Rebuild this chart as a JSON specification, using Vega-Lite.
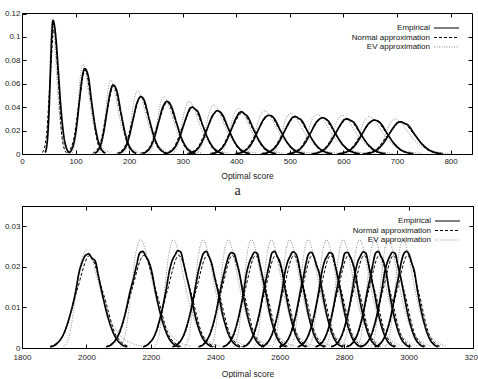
{
"$schema":"https://vega.github.io/schema/vega-lite/v6.json",
"padding":{"left":3,"top":9,"right":0,"bottom":0},
"config":{"font":"Liberation Sans","view":{"stroke":"#000","strokeWidth":1},
"axis":{"grid":false,"domain":false,"tickColor":"#000","tickSize":-4,"labelFontSize":8,"labelColor":"#222","titleFontSize":8.5,"titleFontWeight":"normal","titleColor":"#222","labelFont":"Liberation Sans","titleFont":"Liberation Sans","labelFlush":false,"labelOverlap":false},
"legend":{"orient":"top-right","offset":10,"title":null,"labelFontSize":8,"labelColor":"#111","labelAlign":"right","labelOffset":-30,"symbolType":"M-5.25,0H1","symbolSize":64,"symbolStrokeWidth":1.2,"rowPadding":0.5,"padding":0,"labelLimit":300,"labelFont":"Liberation Sans"},
"concat":{"spacing":3}},
"datasets":{
"top":[
{"s":"E","c":1,"x":43,"y":0.0013},{"s":"E","c":1,"x":45.5,"y":0.005},{"s":"E","c":1,"x":48,"y":0.0154},{"s":"E","c":1,"x":50.5,"y":0.0371},{"s":"E","c":1,"x":53,"y":0.0692},{"s":"E","c":1,"x":55.5,"y":0.1005},{"s":"E","c":1,"x":58,"y":0.114},{"s":"E","c":1,"x":63,"y":0.1005},{"s":"E","c":1,"x":68,"y":0.0692},{"s":"E","c":1,"x":73,"y":0.0371},{"s":"E","c":1,"x":78,"y":0.0154},{"s":"E","c":1,"x":83,"y":0.005},{"s":"E","c":1,"x":88,"y":0.0013},
{"s":"E","c":2,"x":87,"y":0.0008},{"s":"E","c":2,"x":92,"y":0.0032},{"s":"E","c":2,"x":97,"y":0.0099},{"s":"E","c":2,"x":102,"y":0.0237},{"s":"E","c":2,"x":107,"y":0.0443},{"s":"E","c":2,"x":112,"y":0.0644},{"s":"E","c":2,"x":117,"y":0.073},{"s":"E","c":2,"x":123.5,"y":0.067},{"s":"E","c":2,"x":130,"y":0.0443},{"s":"E","c":2,"x":136.5,"y":0.0237},{"s":"E","c":2,"x":143,"y":0.0099},{"s":"E","c":2,"x":149.5,"y":0.0032},{"s":"E","c":2,"x":156,"y":0.0008},
{"s":"E","c":3,"x":135.5,"y":0.0006},{"s":"E","c":3,"x":141.3,"y":0.0026},{"s":"E","c":3,"x":147,"y":0.008},{"s":"E","c":3,"x":152.8,"y":0.0192},{"s":"E","c":3,"x":158.5,"y":0.0358},{"s":"E","c":3,"x":164.3,"y":0.052},{"s":"E","c":3,"x":170,"y":0.059},{"s":"E","c":3,"x":177.3,"y":0.0535},{"s":"E","c":3,"x":184.5,"y":0.0358},{"s":"E","c":3,"x":191.8,"y":0.0192},{"s":"E","c":3,"x":199,"y":0.008},{"s":"E","c":3,"x":206.3,"y":0.0026},{"s":"E","c":3,"x":213.5,"y":0.0006},
{"s":"E","c":4,"x":180.5,"y":0.0005},{"s":"E","c":4,"x":187.3,"y":0.0022},{"s":"E","c":4,"x":194,"y":0.0066},{"s":"E","c":4,"x":200.8,"y":0.0159},{"s":"E","c":4,"x":207.5,"y":0.0297},{"s":"E","c":4,"x":214.3,"y":0.0432},{"s":"E","c":4,"x":217.6,"y":0.0468},{"s":"E","c":4,"x":221,"y":0.049},{"s":"E","c":4,"x":225.1,"y":0.0482},{"s":"E","c":4,"x":229.3,"y":0.0445},{"s":"E","c":4,"x":237.5,"y":0.0297},{"s":"E","c":4,"x":245.8,"y":0.0159},{"s":"E","c":4,"x":254,"y":0.0066},{"s":"E","c":4,"x":262.3,"y":0.0022},{"s":"E","c":4,"x":270.5,"y":0.0005},
{"s":"E","c":5,"x":225,"y":0.0005},{"s":"E","c":5,"x":232.5,"y":0.002},{"s":"E","c":5,"x":240,"y":0.0061},{"s":"E","c":5,"x":247.5,"y":0.0146},{"s":"E","c":5,"x":255,"y":0.0273},{"s":"E","c":5,"x":262.5,"y":0.0397},{"s":"E","c":5,"x":266.3,"y":0.0432},{"s":"E","c":5,"x":270,"y":0.045},{"s":"E","c":5,"x":274.5,"y":0.0441},{"s":"E","c":5,"x":279,"y":0.0405},{"s":"E","c":5,"x":288,"y":0.0273},{"s":"E","c":5,"x":297,"y":0.0146},{"s":"E","c":5,"x":306,"y":0.0061},{"s":"E","c":5,"x":315,"y":0.002},{"s":"E","c":5,"x":324,"y":0.0005},
{"s":"E","c":6,"x":268.5,"y":0.0004},{"s":"E","c":6,"x":276.8,"y":0.0018},{"s":"E","c":6,"x":285,"y":0.0054},{"s":"E","c":6,"x":293.3,"y":0.013},{"s":"E","c":6,"x":301.5,"y":0.0243},{"s":"E","c":6,"x":309.8,"y":0.0353},{"s":"E","c":6,"x":313.9,"y":0.0392},{"s":"E","c":6,"x":318,"y":0.04},{"s":"E","c":6,"x":322.9,"y":0.0384},{"s":"E","c":6,"x":327.8,"y":0.0365},{"s":"E","c":6,"x":337.5,"y":0.0243},{"s":"E","c":6,"x":347.3,"y":0.013},{"s":"E","c":6,"x":357,"y":0.0054},{"s":"E","c":6,"x":366.8,"y":0.0018},{"s":"E","c":6,"x":376.5,"y":0.0004},
{"s":"E","c":7,"x":311.5,"y":0.0004},{"s":"E","c":7,"x":320.3,"y":0.0016},{"s":"E","c":7,"x":329,"y":0.005},{"s":"E","c":7,"x":337.8,"y":0.012},{"s":"E","c":7,"x":346.5,"y":0.0225},{"s":"E","c":7,"x":355.3,"y":0.0326},{"s":"E","c":7,"x":359.6,"y":0.0352},{"s":"E","c":7,"x":364,"y":0.037},{"s":"E","c":7,"x":369.1,"y":0.0362},{"s":"E","c":7,"x":374.3,"y":0.0335},{"s":"E","c":7,"x":384.5,"y":0.0225},{"s":"E","c":7,"x":394.8,"y":0.012},{"s":"E","c":7,"x":405,"y":0.005},{"s":"E","c":7,"x":415.3,"y":0.0016},{"s":"E","c":7,"x":425.5,"y":0.0004},
{"s":"E","c":8,"x":354.5,"y":0.0004},{"s":"E","c":8,"x":363.8,"y":0.0016},{"s":"E","c":8,"x":373,"y":0.0049},{"s":"E","c":8,"x":382.3,"y":0.0117},{"s":"E","c":8,"x":391.5,"y":0.0219},{"s":"E","c":8,"x":400.8,"y":0.0318},{"s":"E","c":8,"x":405.4,"y":0.0351},{"s":"E","c":8,"x":410,"y":0.036},{"s":"E","c":8,"x":415.4,"y":0.0342},{"s":"E","c":8,"x":420.8,"y":0.0322},{"s":"E","c":8,"x":431.5,"y":0.0219},{"s":"E","c":8,"x":442.3,"y":0.0117},{"s":"E","c":8,"x":453,"y":0.0049},{"s":"E","c":8,"x":463.8,"y":0.0016},{"s":"E","c":8,"x":474.5,"y":0.0004},
{"s":"E","c":9,"x":401.5,"y":0.0004},{"s":"E","c":9,"x":411.3,"y":0.0015},{"s":"E","c":9,"x":421,"y":0.0045},{"s":"E","c":9,"x":430.8,"y":0.0107},{"s":"E","c":9,"x":440.5,"y":0.02},{"s":"E","c":9,"x":450.3,"y":0.0291},{"s":"E","c":9,"x":455.1,"y":0.0318},{"s":"E","c":9,"x":460,"y":0.033},{"s":"E","c":9,"x":465.6,"y":0.0326},{"s":"E","c":9,"x":471.3,"y":0.03},{"s":"E","c":9,"x":482.5,"y":0.02},{"s":"E","c":9,"x":493.8,"y":0.0107},{"s":"E","c":9,"x":505,"y":0.0045},{"s":"E","c":9,"x":516.3,"y":0.0015},{"s":"E","c":9,"x":527.5,"y":0.0004},
{"s":"E","c":10,"x":450,"y":0.0004},{"s":"E","c":10,"x":460,"y":0.0014},{"s":"E","c":10,"x":470,"y":0.0043},{"s":"E","c":10,"x":480,"y":0.0104},{"s":"E","c":10,"x":490,"y":0.0194},{"s":"E","c":10,"x":500,"y":0.0282},{"s":"E","c":10,"x":505,"y":0.0313},{"s":"E","c":10,"x":510,"y":0.032},{"s":"E","c":10,"x":515.8,"y":0.0306},{"s":"E","c":10,"x":521.5,"y":0.029},{"s":"E","c":10,"x":533,"y":0.0194},{"s":"E","c":10,"x":544.5,"y":0.0104},{"s":"E","c":10,"x":556,"y":0.0043},{"s":"E","c":10,"x":567.5,"y":0.0014},{"s":"E","c":10,"x":579,"y":0.0004},
{"s":"E","c":11,"x":498.5,"y":0.0003},{"s":"E","c":11,"x":508.8,"y":0.0014},{"s":"E","c":11,"x":519,"y":0.0042},{"s":"E","c":11,"x":529.3,"y":0.0101},{"s":"E","c":11,"x":539.5,"y":0.0188},{"s":"E","c":11,"x":549.8,"y":0.0273},{"s":"E","c":11,"x":554.9,"y":0.0296},{"s":"E","c":11,"x":560,"y":0.031},{"s":"E","c":11,"x":565.9,"y":0.0303},{"s":"E","c":11,"x":571.8,"y":0.0282},{"s":"E","c":11,"x":583.5,"y":0.0188},{"s":"E","c":11,"x":595.3,"y":0.0101},{"s":"E","c":11,"x":607,"y":0.0042},{"s":"E","c":11,"x":618.8,"y":0.0014},{"s":"E","c":11,"x":630.5,"y":0.0003},
{"s":"E","c":12,"x":544,"y":0.0003},{"s":"E","c":12,"x":554.5,"y":0.0013},{"s":"E","c":12,"x":565,"y":0.0041},{"s":"E","c":12,"x":575.5,"y":0.0098},{"s":"E","c":12,"x":586,"y":0.0182},{"s":"E","c":12,"x":596.5,"y":0.0265},{"s":"E","c":12,"x":601.8,"y":0.0294},{"s":"E","c":12,"x":607,"y":0.03},{"s":"E","c":12,"x":613,"y":0.0287},{"s":"E","c":12,"x":619,"y":0.0272},{"s":"E","c":12,"x":631,"y":0.0182},{"s":"E","c":12,"x":643,"y":0.0098},{"s":"E","c":12,"x":655,"y":0.0041},{"s":"E","c":12,"x":667,"y":0.0013},{"s":"E","c":12,"x":679,"y":0.0003},
{"s":"E","c":13,"x":592.5,"y":0.0003},{"s":"E","c":13,"x":603.3,"y":0.0013},{"s":"E","c":13,"x":614,"y":0.0039},{"s":"E","c":13,"x":624.8,"y":0.0094},{"s":"E","c":13,"x":635.5,"y":0.0176},{"s":"E","c":13,"x":646.3,"y":0.0256},{"s":"E","c":13,"x":651.6,"y":0.0277},{"s":"E","c":13,"x":657,"y":0.029},{"s":"E","c":13,"x":663.1,"y":0.0284},{"s":"E","c":13,"x":669.3,"y":0.0263},{"s":"E","c":13,"x":681.5,"y":0.0176},{"s":"E","c":13,"x":693.8,"y":0.0094},{"s":"E","c":13,"x":706,"y":0.0039},{"s":"E","c":13,"x":718.3,"y":0.0013},{"s":"E","c":13,"x":730.5,"y":0.0003},
{"s":"E","c":14,"x":641,"y":0.0003},{"s":"E","c":14,"x":652,"y":0.0012},{"s":"E","c":14,"x":663,"y":0.0037},{"s":"E","c":14,"x":674,"y":0.0089},{"s":"E","c":14,"x":685,"y":0.0167},{"s":"E","c":14,"x":696,"y":0.0243},{"s":"E","c":14,"x":701.5,"y":0.0269},{"s":"E","c":14,"x":707,"y":0.0275},{"s":"E","c":14,"x":713.5,"y":0.0262},{"s":"E","c":14,"x":720,"y":0.025},{"s":"E","c":14,"x":733,"y":0.0167},{"s":"E","c":14,"x":746,"y":0.0089},{"s":"E","c":14,"x":759,"y":0.0037},{"s":"E","c":14,"x":772,"y":0.0012},{"s":"E","c":14,"x":785,"y":0.0003},
{"s":"V","c":1,"x":45,"y":0.0014},{"s":"V","c":1,"x":48,"y":0.0161},{"s":"V","c":1,"x":51,"y":0.0571},{"s":"V","c":1,"x":54,"y":0.1009},{"s":"V","c":1,"x":57,"y":0.117},{"s":"V","c":1,"x":60,"y":0.1052},{"s":"V","c":1,"x":63,"y":0.081},{"s":"V","c":1,"x":66,"y":0.0567},{"s":"V","c":1,"x":69,"y":0.0376},{"s":"V","c":1,"x":75,"y":0.0151},{"s":"V","c":1,"x":81,"y":0.0057},{"s":"V","c":1,"x":87,"y":0.0021},
{"s":"V","c":2,"x":94,"y":0.0009},{"s":"V","c":2,"x":99,"y":0.0106},{"s":"V","c":2,"x":104,"y":0.0376},{"s":"V","c":2,"x":109,"y":0.0664},{"s":"V","c":2,"x":114,"y":0.077},{"s":"V","c":2,"x":119,"y":0.0692},{"s":"V","c":2,"x":124,"y":0.0533},{"s":"V","c":2,"x":129,"y":0.0373},{"s":"V","c":2,"x":134,"y":0.0247},{"s":"V","c":2,"x":144,"y":0.0099},{"s":"V","c":2,"x":154,"y":0.0038},{"s":"V","c":2,"x":164,"y":0.0014},
{"s":"V","c":3,"x":144,"y":0.0008},{"s":"V","c":3,"x":149.5,"y":0.0087},{"s":"V","c":3,"x":155,"y":0.0307},{"s":"V","c":3,"x":160.5,"y":0.0543},{"s":"V","c":3,"x":166,"y":0.063},{"s":"V","c":3,"x":171.5,"y":0.0566},{"s":"V","c":3,"x":177,"y":0.0436},{"s":"V","c":3,"x":182.5,"y":0.0306},{"s":"V","c":3,"x":188,"y":0.0202},{"s":"V","c":3,"x":199,"y":0.0081},{"s":"V","c":3,"x":210,"y":0.0031},{"s":"V","c":3,"x":221,"y":0.0011},
{"s":"V","c":4,"x":190,"y":0.0006},{"s":"V","c":4,"x":196.5,"y":0.0075},{"s":"V","c":4,"x":203,"y":0.0264},{"s":"V","c":4,"x":209.5,"y":0.0465},{"s":"V","c":4,"x":216,"y":0.054},{"s":"V","c":4,"x":222.5,"y":0.0485},{"s":"V","c":4,"x":229,"y":0.0374},{"s":"V","c":4,"x":235.5,"y":0.0262},{"s":"V","c":4,"x":242,"y":0.0173},{"s":"V","c":4,"x":255,"y":0.007},{"s":"V","c":4,"x":268,"y":0.0026},{"s":"V","c":4,"x":281,"y":0.001},
{"s":"V","c":5,"x":237,"y":0.0006},{"s":"V","c":5,"x":244,"y":0.0068},{"s":"V","c":5,"x":251,"y":0.0239},{"s":"V","c":5,"x":258,"y":0.0422},{"s":"V","c":5,"x":265,"y":0.049},{"s":"V","c":5,"x":272,"y":0.0441},{"s":"V","c":5,"x":279,"y":0.0339},{"s":"V","c":5,"x":286,"y":0.0238},{"s":"V","c":5,"x":293,"y":0.0157},{"s":"V","c":5,"x":307,"y":0.0063},{"s":"V","c":5,"x":321,"y":0.0024},{"s":"V","c":5,"x":335,"y":0.0009},
{"s":"V","c":6,"x":282,"y":0.0005},{"s":"V","c":6,"x":289.5,"y":0.0062},{"s":"V","c":6,"x":297,"y":0.022},{"s":"V","c":6,"x":304.5,"y":0.0388},{"s":"V","c":6,"x":312,"y":0.045},{"s":"V","c":6,"x":319.5,"y":0.0405},{"s":"V","c":6,"x":327,"y":0.0311},{"s":"V","c":6,"x":334.5,"y":0.0218},{"s":"V","c":6,"x":342,"y":0.0144},{"s":"V","c":6,"x":357,"y":0.0058},{"s":"V","c":6,"x":372,"y":0.0022},{"s":"V","c":6,"x":387,"y":0.0008},
{"s":"V","c":7,"x":326,"y":0.0005},{"s":"V","c":7,"x":334,"y":0.0058},{"s":"V","c":7,"x":342,"y":0.0205},{"s":"V","c":7,"x":350,"y":0.0362},{"s":"V","c":7,"x":358,"y":0.042},{"s":"V","c":7,"x":366,"y":0.0378},{"s":"V","c":7,"x":374,"y":0.0291},{"s":"V","c":7,"x":382,"y":0.0204},{"s":"V","c":7,"x":390,"y":0.0135},{"s":"V","c":7,"x":406,"y":0.0054},{"s":"V","c":7,"x":422,"y":0.0021},{"s":"V","c":7,"x":438,"y":0.0008},
{"s":"V","c":8,"x":370,"y":0.0005},{"s":"V","c":8,"x":378.5,"y":0.0054},{"s":"V","c":8,"x":387,"y":0.019},{"s":"V","c":8,"x":395.5,"y":0.0336},{"s":"V","c":8,"x":404,"y":0.039},{"s":"V","c":8,"x":412.5,"y":0.0351},{"s":"V","c":8,"x":421,"y":0.027},{"s":"V","c":8,"x":429.5,"y":0.0189},{"s":"V","c":8,"x":438,"y":0.0125},{"s":"V","c":8,"x":455,"y":0.005},{"s":"V","c":8,"x":472,"y":0.0019},{"s":"V","c":8,"x":489,"y":0.0007},
{"s":"V","c":9,"x":417,"y":0.0004},{"s":"V","c":9,"x":426,"y":0.0051},{"s":"V","c":9,"x":435,"y":0.0181},{"s":"V","c":9,"x":444,"y":0.0319},{"s":"V","c":9,"x":453,"y":0.037},{"s":"V","c":9,"x":462,"y":0.0333},{"s":"V","c":9,"x":471,"y":0.0256},{"s":"V","c":9,"x":480,"y":0.0179},{"s":"V","c":9,"x":489,"y":0.0119},{"s":"V","c":9,"x":507,"y":0.0048},{"s":"V","c":9,"x":525,"y":0.0018},{"s":"V","c":9,"x":543,"y":0.0007},
{"s":"V","c":10,"x":466,"y":0.0004},{"s":"V","c":10,"x":475,"y":0.0048},{"s":"V","c":10,"x":484,"y":0.0171},{"s":"V","c":10,"x":493,"y":0.0302},{"s":"V","c":10,"x":502,"y":0.035},{"s":"V","c":10,"x":511,"y":0.0315},{"s":"V","c":10,"x":520,"y":0.0242},{"s":"V","c":10,"x":529,"y":0.017},{"s":"V","c":10,"x":538,"y":0.0112},{"s":"V","c":10,"x":556,"y":0.0045},{"s":"V","c":10,"x":574,"y":0.0017},{"s":"V","c":10,"x":592,"y":0.0006},
{"s":"V","c":11,"x":513,"y":0.0004},{"s":"V","c":11,"x":522.5,"y":0.0047},{"s":"V","c":11,"x":532,"y":0.0166},{"s":"V","c":11,"x":541.5,"y":0.0293},{"s":"V","c":11,"x":551,"y":0.034},{"s":"V","c":11,"x":560.5,"y":0.0306},{"s":"V","c":11,"x":570,"y":0.0235},{"s":"V","c":11,"x":579.5,"y":0.0165},{"s":"V","c":11,"x":589,"y":0.0109},{"s":"V","c":11,"x":608,"y":0.0044},{"s":"V","c":11,"x":627,"y":0.0017},{"s":"V","c":11,"x":646,"y":0.0006},
{"s":"V","c":12,"x":560,"y":0.0004},{"s":"V","c":12,"x":569.5,"y":0.0046},{"s":"V","c":12,"x":579,"y":0.0161},{"s":"V","c":12,"x":588.5,"y":0.0284},{"s":"V","c":12,"x":598,"y":0.033},{"s":"V","c":12,"x":607.5,"y":0.0297},{"s":"V","c":12,"x":617,"y":0.0228},{"s":"V","c":12,"x":626.5,"y":0.016},{"s":"V","c":12,"x":636,"y":0.0106},{"s":"V","c":12,"x":655,"y":0.0043},{"s":"V","c":12,"x":674,"y":0.0016},{"s":"V","c":12,"x":693,"y":0.0006},
{"s":"V","c":13,"x":609,"y":0.0004},{"s":"V","c":13,"x":618.8,"y":0.0044},{"s":"V","c":13,"x":628.5,"y":0.0156},{"s":"V","c":13,"x":638.3,"y":0.0276},{"s":"V","c":13,"x":648,"y":0.032},{"s":"V","c":13,"x":657.8,"y":0.0288},{"s":"V","c":13,"x":667.5,"y":0.0221},{"s":"V","c":13,"x":677.3,"y":0.0155},{"s":"V","c":13,"x":687,"y":0.0103},{"s":"V","c":13,"x":706.5,"y":0.0041},{"s":"V","c":13,"x":726,"y":0.0016},{"s":"V","c":13,"x":745.5,"y":0.0006},
{"s":"V","c":14,"x":657,"y":0.0004},{"s":"V","c":14,"x":667,"y":0.0041},{"s":"V","c":14,"x":677,"y":0.0146},{"s":"V","c":14,"x":687,"y":0.0259},{"s":"V","c":14,"x":697,"y":0.03},{"s":"V","c":14,"x":707,"y":0.027},{"s":"V","c":14,"x":717,"y":0.0208},{"s":"V","c":14,"x":727,"y":0.0146},{"s":"V","c":14,"x":737,"y":0.0096},{"s":"V","c":14,"x":757,"y":0.0039},{"s":"V","c":14,"x":777,"y":0.0015},{"s":"V","c":14,"x":797,"y":0.0005},
{"s":"N","c":1,"x":38.1,"y":0.0012},{"s":"N","c":1,"x":45.4,"y":0.0146},{"s":"N","c":1,"x":52.7,"y":0.0656},{"s":"N","c":1,"x":60,"y":0.108},{"s":"N","c":1,"x":67.3,"y":0.0656},{"s":"N","c":1,"x":74.6,"y":0.0146},{"s":"N","c":1,"x":81.9,"y":0.0012},
{"s":"N","c":2,"x":83.5,"y":0.0008},{"s":"N","c":2,"x":95,"y":0.0097},{"s":"N","c":2,"x":106.5,"y":0.0437},{"s":"N","c":2,"x":118,"y":0.072},{"s":"N","c":2,"x":129.5,"y":0.0437},{"s":"N","c":2,"x":141,"y":0.0097},{"s":"N","c":2,"x":152.5,"y":0.0008},
{"s":"N","c":3,"x":132,"y":0.0006},{"s":"N","c":3,"x":145,"y":0.0078},{"s":"N","c":3,"x":158,"y":0.0352},{"s":"N","c":3,"x":171,"y":0.058},{"s":"N","c":3,"x":184,"y":0.0352},{"s":"N","c":3,"x":197,"y":0.0078},{"s":"N","c":3,"x":210,"y":0.0006},
{"s":"N","c":4,"x":177,"y":0.0005},{"s":"N","c":4,"x":192,"y":0.0066},{"s":"N","c":4,"x":207,"y":0.0297},{"s":"N","c":4,"x":222,"y":0.049},{"s":"N","c":4,"x":237,"y":0.0297},{"s":"N","c":4,"x":252,"y":0.0066},{"s":"N","c":4,"x":267,"y":0.0005},
{"s":"N","c":5,"x":221.5,"y":0.0005},{"s":"N","c":5,"x":238,"y":0.0059},{"s":"N","c":5,"x":254.5,"y":0.0267},{"s":"N","c":5,"x":271,"y":0.044},{"s":"N","c":5,"x":287.5,"y":0.0267},{"s":"N","c":5,"x":304,"y":0.0059},{"s":"N","c":5,"x":320.5,"y":0.0005},
{"s":"N","c":6,"x":265,"y":0.0004},{"s":"N","c":6,"x":283,"y":0.0054},{"s":"N","c":6,"x":301,"y":0.0243},{"s":"N","c":6,"x":319,"y":0.04},{"s":"N","c":6,"x":337,"y":0.0243},{"s":"N","c":6,"x":355,"y":0.0054},{"s":"N","c":6,"x":373,"y":0.0004},
{"s":"N","c":7,"x":308,"y":0.0004},{"s":"N","c":7,"x":327,"y":0.005},{"s":"N","c":7,"x":346,"y":0.0225},{"s":"N","c":7,"x":365,"y":0.037},{"s":"N","c":7,"x":384,"y":0.0225},{"s":"N","c":7,"x":403,"y":0.005},{"s":"N","c":7,"x":422,"y":0.0004},
{"s":"N","c":8,"x":351,"y":0.0004},{"s":"N","c":8,"x":371,"y":0.0047},{"s":"N","c":8,"x":391,"y":0.0212},{"s":"N","c":8,"x":411,"y":0.035},{"s":"N","c":8,"x":431,"y":0.0212},{"s":"N","c":8,"x":451,"y":0.0047},{"s":"N","c":8,"x":471,"y":0.0004},
{"s":"N","c":9,"x":398,"y":0.0004},{"s":"N","c":9,"x":419,"y":0.0045},{"s":"N","c":9,"x":440,"y":0.02},{"s":"N","c":9,"x":461,"y":0.033},{"s":"N","c":9,"x":482,"y":0.02},{"s":"N","c":9,"x":503,"y":0.0045},{"s":"N","c":9,"x":524,"y":0.0004},
{"s":"N","c":10,"x":446.5,"y":0.0004},{"s":"N","c":10,"x":468,"y":0.0043},{"s":"N","c":10,"x":489.5,"y":0.0194},{"s":"N","c":10,"x":511,"y":0.032},{"s":"N","c":10,"x":532.5,"y":0.0194},{"s":"N","c":10,"x":554,"y":0.0043},{"s":"N","c":10,"x":575.5,"y":0.0004},
{"s":"N","c":11,"x":495,"y":0.0003},{"s":"N","c":11,"x":517,"y":0.0042},{"s":"N","c":11,"x":539,"y":0.0188},{"s":"N","c":11,"x":561,"y":0.031},{"s":"N","c":11,"x":583,"y":0.0188},{"s":"N","c":11,"x":605,"y":0.0042},{"s":"N","c":11,"x":627,"y":0.0003},
{"s":"N","c":12,"x":540.5,"y":0.0003},{"s":"N","c":12,"x":563,"y":0.0041},{"s":"N","c":12,"x":585.5,"y":0.0182},{"s":"N","c":12,"x":608,"y":0.03},{"s":"N","c":12,"x":630.5,"y":0.0182},{"s":"N","c":12,"x":653,"y":0.0041},{"s":"N","c":12,"x":675.5,"y":0.0003},
{"s":"N","c":13,"x":589,"y":0.0003},{"s":"N","c":13,"x":612,"y":0.0039},{"s":"N","c":13,"x":635,"y":0.0176},{"s":"N","c":13,"x":658,"y":0.029},{"s":"N","c":13,"x":681,"y":0.0176},{"s":"N","c":13,"x":704,"y":0.0039},{"s":"N","c":13,"x":727,"y":0.0003},
{"s":"N","c":14,"x":636,"y":0.0003},{"s":"N","c":14,"x":660,"y":0.0037},{"s":"N","c":14,"x":684,"y":0.0167},{"s":"N","c":14,"x":708,"y":0.0275},{"s":"N","c":14,"x":732,"y":0.0167},{"s":"N","c":14,"x":756,"y":0.0037},{"s":"N","c":14,"x":780,"y":0.0003}
],
"bot":[
{"s":"E","c":1,"x":1887,"y":0.0003},{"s":"E","c":1,"x":1907,"y":0.001},{"s":"E","c":1,"x":1927,"y":0.0031},{"s":"E","c":1,"x":1947,"y":0.0075},{"s":"E","c":1,"x":1967,"y":0.0141},{"s":"E","c":1,"x":1977,"y":0.0186},{"s":"E","c":1,"x":1987,"y":0.0212},{"s":"E","c":1,"x":1997,"y":0.0228},{"s":"E","c":1,"x":2007,"y":0.0232},{"s":"E","c":1,"x":2017,"y":0.0221},{"s":"E","c":1,"x":2027,"y":0.0215},{"s":"E","c":1,"x":2037,"y":0.0178},{"s":"E","c":1,"x":2047,"y":0.0141},{"s":"E","c":1,"x":2067,"y":0.0075},{"s":"E","c":1,"x":2087,"y":0.0031},{"s":"E","c":1,"x":2107,"y":0.001},{"s":"E","c":1,"x":2127,"y":0.0003},
{"s":"E","c":2,"x":2061,"y":0.0003},{"s":"E","c":2,"x":2080,"y":0.001},{"s":"E","c":2,"x":2099,"y":0.0032},{"s":"E","c":2,"x":2118,"y":0.0077},{"s":"E","c":2,"x":2137,"y":0.0144},{"s":"E","c":2,"x":2146.5,"y":0.0172},{"s":"E","c":2,"x":2156,"y":0.0205},{"s":"E","c":2,"x":2165.5,"y":0.0234},{"s":"E","c":2,"x":2175,"y":0.0238},{"s":"E","c":2,"x":2184.5,"y":0.0226},{"s":"E","c":2,"x":2194,"y":0.0212},{"s":"E","c":2,"x":2203.5,"y":0.0186},{"s":"E","c":2,"x":2213,"y":0.0144},{"s":"E","c":2,"x":2232,"y":0.0077},{"s":"E","c":2,"x":2251,"y":0.0032},{"s":"E","c":2,"x":2270,"y":0.001},{"s":"E","c":2,"x":2289,"y":0.0003},
{"s":"E","c":3,"x":2176,"y":0.0003},{"s":"E","c":3,"x":2194,"y":0.0011},{"s":"E","c":3,"x":2212,"y":0.0032},{"s":"E","c":3,"x":2230,"y":0.0078},{"s":"E","c":3,"x":2248,"y":0.0146},{"s":"E","c":3,"x":2257,"y":0.0188},{"s":"E","c":3,"x":2266,"y":0.0215},{"s":"E","c":3,"x":2275,"y":0.0229},{"s":"E","c":3,"x":2284,"y":0.024},{"s":"E","c":3,"x":2293,"y":0.0236},{"s":"E","c":3,"x":2302,"y":0.0207},{"s":"E","c":3,"x":2311,"y":0.0176},{"s":"E","c":3,"x":2320,"y":0.0146},{"s":"E","c":3,"x":2338,"y":0.0078},{"s":"E","c":3,"x":2356,"y":0.0032},{"s":"E","c":3,"x":2374,"y":0.0011},{"s":"E","c":3,"x":2392,"y":0.0003},
{"s":"E","c":4,"x":2267,"y":0.0003},{"s":"E","c":4,"x":2284.5,"y":0.001},{"s":"E","c":4,"x":2302,"y":0.0032},{"s":"E","c":4,"x":2319.5,"y":0.0077},{"s":"E","c":4,"x":2337,"y":0.0144},{"s":"E","c":4,"x":2345.8,"y":0.0183},{"s":"E","c":4,"x":2354.5,"y":0.0212},{"s":"E","c":4,"x":2363.3,"y":0.0233},{"s":"E","c":4,"x":2372,"y":0.0238},{"s":"E","c":4,"x":2380.8,"y":0.0225},{"s":"E","c":4,"x":2389.5,"y":0.0206},{"s":"E","c":4,"x":2398.3,"y":0.0173},{"s":"E","c":4,"x":2407,"y":0.0144},{"s":"E","c":4,"x":2424.5,"y":0.0077},{"s":"E","c":4,"x":2442,"y":0.0032},{"s":"E","c":4,"x":2459.5,"y":0.001},{"s":"E","c":4,"x":2477,"y":0.0003},
{"s":"E","c":5,"x":2348,"y":0.0003},{"s":"E","c":5,"x":2365,"y":0.001},{"s":"E","c":5,"x":2382,"y":0.0032},{"s":"E","c":5,"x":2399,"y":0.0076},{"s":"E","c":5,"x":2416,"y":0.0143},{"s":"E","c":5,"x":2424.5,"y":0.0175},{"s":"E","c":5,"x":2433,"y":0.0203},{"s":"E","c":5,"x":2441.5,"y":0.0226},{"s":"E","c":5,"x":2450,"y":0.0235},{"s":"E","c":5,"x":2458.5,"y":0.0232},{"s":"E","c":5,"x":2467,"y":0.021},{"s":"E","c":5,"x":2475.5,"y":0.0182},{"s":"E","c":5,"x":2484,"y":0.0143},{"s":"E","c":5,"x":2501,"y":0.0076},{"s":"E","c":5,"x":2518,"y":0.0032},{"s":"E","c":5,"x":2535,"y":0.001},{"s":"E","c":5,"x":2552,"y":0.0003},
{"s":"E","c":6,"x":2423,"y":0.0003},{"s":"E","c":6,"x":2439.5,"y":0.001},{"s":"E","c":6,"x":2456,"y":0.0032},{"s":"E","c":6,"x":2472.5,"y":0.0077},{"s":"E","c":6,"x":2489,"y":0.0143},{"s":"E","c":6,"x":2497.3,"y":0.0185},{"s":"E","c":6,"x":2505.5,"y":0.021},{"s":"E","c":6,"x":2513.8,"y":0.0226},{"s":"E","c":6,"x":2522,"y":0.0236},{"s":"E","c":6,"x":2530.3,"y":0.0233},{"s":"E","c":6,"x":2538.5,"y":0.0205},{"s":"E","c":6,"x":2546.8,"y":0.0174},{"s":"E","c":6,"x":2555,"y":0.0143},{"s":"E","c":6,"x":2571.5,"y":0.0077},{"s":"E","c":6,"x":2588,"y":0.0032},{"s":"E","c":6,"x":2604.5,"y":0.001},{"s":"E","c":6,"x":2621,"y":0.0003},
{"s":"E","c":7,"x":2485,"y":0.0003},{"s":"E","c":7,"x":2501.5,"y":0.001},{"s":"E","c":7,"x":2518,"y":0.0032},{"s":"E","c":7,"x":2534.5,"y":0.0077},{"s":"E","c":7,"x":2551,"y":0.0144},{"s":"E","c":7,"x":2559.3,"y":0.0176},{"s":"E","c":7,"x":2567.5,"y":0.0206},{"s":"E","c":7,"x":2575.8,"y":0.0234},{"s":"E","c":7,"x":2584,"y":0.0238},{"s":"E","c":7,"x":2592.3,"y":0.0226},{"s":"E","c":7,"x":2600.5,"y":0.0212},{"s":"E","c":7,"x":2608.8,"y":0.0185},{"s":"E","c":7,"x":2617,"y":0.0144},{"s":"E","c":7,"x":2633.5,"y":0.0077},{"s":"E","c":7,"x":2650,"y":0.0032},{"s":"E","c":7,"x":2666.5,"y":0.001},{"s":"E","c":7,"x":2683,"y":0.0003},
{"s":"E","c":8,"x":2542,"y":0.0003},{"s":"E","c":8,"x":2558.5,"y":0.001},{"s":"E","c":8,"x":2575,"y":0.0032},{"s":"E","c":8,"x":2591.5,"y":0.0077},{"s":"E","c":8,"x":2608,"y":0.0144},{"s":"E","c":8,"x":2616.3,"y":0.0186},{"s":"E","c":8,"x":2624.5,"y":0.0212},{"s":"E","c":8,"x":2632.8,"y":0.0227},{"s":"E","c":8,"x":2641,"y":0.0237},{"s":"E","c":8,"x":2649.3,"y":0.0233},{"s":"E","c":8,"x":2657.5,"y":0.0214},{"s":"E","c":8,"x":2665.8,"y":0.0175},{"s":"E","c":8,"x":2674,"y":0.0144},{"s":"E","c":8,"x":2690.5,"y":0.0077},{"s":"E","c":8,"x":2707,"y":0.0032},{"s":"E","c":8,"x":2723.5,"y":0.001},{"s":"E","c":8,"x":2740,"y":0.0003},
{"s":"E","c":9,"x":2599,"y":0.0003},{"s":"E","c":9,"x":2615.5,"y":0.001},{"s":"E","c":9,"x":2632,"y":0.0032},{"s":"E","c":9,"x":2648.5,"y":0.0077},{"s":"E","c":9,"x":2665,"y":0.0143},{"s":"E","c":9,"x":2673.3,"y":0.0174},{"s":"E","c":9,"x":2681.5,"y":0.0208},{"s":"E","c":9,"x":2689.8,"y":0.0232},{"s":"E","c":9,"x":2698,"y":0.0236},{"s":"E","c":9,"x":2706.3,"y":0.0225},{"s":"E","c":9,"x":2714.5,"y":0.0203},{"s":"E","c":9,"x":2722.8,"y":0.0184},{"s":"E","c":9,"x":2731,"y":0.0143},{"s":"E","c":9,"x":2747.5,"y":0.0077},{"s":"E","c":9,"x":2764,"y":0.0032},{"s":"E","c":9,"x":2780.5,"y":0.001},{"s":"E","c":9,"x":2797,"y":0.0003},
{"s":"E","c":10,"x":2656,"y":0.0003},{"s":"E","c":10,"x":2672.5,"y":0.001},{"s":"E","c":10,"x":2689,"y":0.0032},{"s":"E","c":10,"x":2705.5,"y":0.0076},{"s":"E","c":10,"x":2722,"y":0.0143},{"s":"E","c":10,"x":2730.3,"y":0.0185},{"s":"E","c":10,"x":2738.5,"y":0.0212},{"s":"E","c":10,"x":2746.8,"y":0.0226},{"s":"E","c":10,"x":2755,"y":0.0235},{"s":"E","c":10,"x":2763.3,"y":0.0232},{"s":"E","c":10,"x":2771.5,"y":0.0207},{"s":"E","c":10,"x":2779.8,"y":0.0176},{"s":"E","c":10,"x":2788,"y":0.0143},{"s":"E","c":10,"x":2804.5,"y":0.0076},{"s":"E","c":10,"x":2821,"y":0.0032},{"s":"E","c":10,"x":2837.5,"y":0.001},{"s":"E","c":10,"x":2854,"y":0.0003},
{"s":"E","c":11,"x":2711,"y":0.0003},{"s":"E","c":11,"x":2727.5,"y":0.001},{"s":"E","c":11,"x":2744,"y":0.0032},{"s":"E","c":11,"x":2760.5,"y":0.0077},{"s":"E","c":11,"x":2777,"y":0.0143},{"s":"E","c":11,"x":2785.3,"y":0.0177},{"s":"E","c":11,"x":2793.5,"y":0.0205},{"s":"E","c":11,"x":2801.8,"y":0.0233},{"s":"E","c":11,"x":2810,"y":0.0236},{"s":"E","c":11,"x":2818.3,"y":0.0226},{"s":"E","c":11,"x":2826.5,"y":0.021},{"s":"E","c":11,"x":2834.8,"y":0.0185},{"s":"E","c":11,"x":2843,"y":0.0143},{"s":"E","c":11,"x":2859.5,"y":0.0077},{"s":"E","c":11,"x":2876,"y":0.0032},{"s":"E","c":11,"x":2892.5,"y":0.001},{"s":"E","c":11,"x":2909,"y":0.0003},
{"s":"E","c":12,"x":2760,"y":0.0003},{"s":"E","c":12,"x":2776.5,"y":0.001},{"s":"E","c":12,"x":2793,"y":0.0032},{"s":"E","c":12,"x":2809.5,"y":0.0077},{"s":"E","c":12,"x":2826,"y":0.0144},{"s":"E","c":12,"x":2834.3,"y":0.0186},{"s":"E","c":12,"x":2842.5,"y":0.0213},{"s":"E","c":12,"x":2850.8,"y":0.0227},{"s":"E","c":12,"x":2859,"y":0.0237},{"s":"E","c":12,"x":2867.3,"y":0.0234},{"s":"E","c":12,"x":2875.5,"y":0.0206},{"s":"E","c":12,"x":2883.8,"y":0.0174},{"s":"E","c":12,"x":2892,"y":0.0144},{"s":"E","c":12,"x":2908.5,"y":0.0077},{"s":"E","c":12,"x":2925,"y":0.0032},{"s":"E","c":12,"x":2941.5,"y":0.001},{"s":"E","c":12,"x":2958,"y":0.0003},
{"s":"E","c":13,"x":2807,"y":0.0003},{"s":"E","c":13,"x":2823.5,"y":0.001},{"s":"E","c":13,"x":2840,"y":0.0032},{"s":"E","c":13,"x":2856.5,"y":0.0077},{"s":"E","c":13,"x":2873,"y":0.0144},{"s":"E","c":13,"x":2881.3,"y":0.0175},{"s":"E","c":13,"x":2889.5,"y":0.0208},{"s":"E","c":13,"x":2897.8,"y":0.0234},{"s":"E","c":13,"x":2906,"y":0.0238},{"s":"E","c":13,"x":2914.3,"y":0.0226},{"s":"E","c":13,"x":2922.5,"y":0.0212},{"s":"E","c":13,"x":2930.8,"y":0.0186},{"s":"E","c":13,"x":2939,"y":0.0144},{"s":"E","c":13,"x":2955.5,"y":0.0077},{"s":"E","c":13,"x":2972,"y":0.0032},{"s":"E","c":13,"x":2988.5,"y":0.001},{"s":"E","c":13,"x":3005,"y":0.0003},
{"s":"E","c":14,"x":2851,"y":0.0003},{"s":"E","c":14,"x":2867.5,"y":0.001},{"s":"E","c":14,"x":2884,"y":0.0032},{"s":"E","c":14,"x":2900.5,"y":0.0077},{"s":"E","c":14,"x":2917,"y":0.0143},{"s":"E","c":14,"x":2925.3,"y":0.0184},{"s":"E","c":14,"x":2933.5,"y":0.021},{"s":"E","c":14,"x":2941.8,"y":0.0226},{"s":"E","c":14,"x":2950,"y":0.0236},{"s":"E","c":14,"x":2958.3,"y":0.0233},{"s":"E","c":14,"x":2966.5,"y":0.0205},{"s":"E","c":14,"x":2974.8,"y":0.0176},{"s":"E","c":14,"x":2983,"y":0.0143},{"s":"E","c":14,"x":2999.5,"y":0.0077},{"s":"E","c":14,"x":3016,"y":0.0032},{"s":"E","c":14,"x":3032.5,"y":0.001},{"s":"E","c":14,"x":3049,"y":0.0003},
{"s":"E","c":15,"x":2895,"y":0.0003},{"s":"E","c":15,"x":2911.5,"y":0.001},{"s":"E","c":15,"x":2928,"y":0.0032},{"s":"E","c":15,"x":2944.5,"y":0.0077},{"s":"E","c":15,"x":2961,"y":0.0144},{"s":"E","c":15,"x":2969.3,"y":0.0177},{"s":"E","c":15,"x":2977.5,"y":0.0212},{"s":"E","c":15,"x":2985.8,"y":0.0233},{"s":"E","c":15,"x":2994,"y":0.0238},{"s":"E","c":15,"x":3002.3,"y":0.0229},{"s":"E","c":15,"x":3010.5,"y":0.0208},{"s":"E","c":15,"x":3018.8,"y":0.0186},{"s":"E","c":15,"x":3027,"y":0.0144},{"s":"E","c":15,"x":3043.5,"y":0.0077},{"s":"E","c":15,"x":3060,"y":0.0032},{"s":"E","c":15,"x":3076.5,"y":0.001},{"s":"E","c":15,"x":3093,"y":0.0003},
{"s":"V","c":1,"x":1930,"y":0.0003},{"s":"V","c":1,"x":1947.5,"y":0.0033},{"s":"V","c":1,"x":1965,"y":0.0118},{"s":"V","c":1,"x":1982.5,"y":0.0209},{"s":"V","c":1,"x":2000,"y":0.0242},{"s":"V","c":1,"x":2017.5,"y":0.0218},{"s":"V","c":1,"x":2035,"y":0.0167},{"s":"V","c":1,"x":2052.5,"y":0.0117},{"s":"V","c":1,"x":2070,"y":0.0078},{"s":"V","c":1,"x":2105,"y":0.0031},{"s":"V","c":1,"x":2140,"y":0.0012},{"s":"V","c":1,"x":2175,"y":0.0004},
{"s":"V","c":2,"x":2106,"y":0.0003},{"s":"V","c":2,"x":2121.5,"y":0.0037},{"s":"V","c":2,"x":2137,"y":0.013},{"s":"V","c":2,"x":2152.5,"y":0.023},{"s":"V","c":2,"x":2168,"y":0.0267},{"s":"V","c":2,"x":2183.5,"y":0.024},{"s":"V","c":2,"x":2199,"y":0.0185},{"s":"V","c":2,"x":2214.5,"y":0.0129},{"s":"V","c":2,"x":2230,"y":0.0086},{"s":"V","c":2,"x":2261,"y":0.0034},{"s":"V","c":2,"x":2292,"y":0.0013},{"s":"V","c":2,"x":2323,"y":0.0005},
{"s":"V","c":3,"x":2212,"y":0.0003},{"s":"V","c":3,"x":2226.5,"y":0.0037},{"s":"V","c":3,"x":2241,"y":0.013},{"s":"V","c":3,"x":2255.5,"y":0.023},{"s":"V","c":3,"x":2270,"y":0.0267},{"s":"V","c":3,"x":2284.5,"y":0.024},{"s":"V","c":3,"x":2299,"y":0.0185},{"s":"V","c":3,"x":2313.5,"y":0.0129},{"s":"V","c":3,"x":2328,"y":0.0086},{"s":"V","c":3,"x":2357,"y":0.0034},{"s":"V","c":3,"x":2386,"y":0.0013},{"s":"V","c":3,"x":2415,"y":0.0005},
{"s":"V","c":4,"x":2306,"y":0.0003},{"s":"V","c":4,"x":2320,"y":0.0037},{"s":"V","c":4,"x":2334,"y":0.013},{"s":"V","c":4,"x":2348,"y":0.023},{"s":"V","c":4,"x":2362,"y":0.0267},{"s":"V","c":4,"x":2376,"y":0.024},{"s":"V","c":4,"x":2390,"y":0.0185},{"s":"V","c":4,"x":2404,"y":0.0129},{"s":"V","c":4,"x":2418,"y":0.0086},{"s":"V","c":4,"x":2446,"y":0.0034},{"s":"V","c":4,"x":2474,"y":0.0013},{"s":"V","c":4,"x":2502,"y":0.0005},
{"s":"V","c":5,"x":2386,"y":0.0003},{"s":"V","c":5,"x":2399.5,"y":0.0037},{"s":"V","c":5,"x":2413,"y":0.013},{"s":"V","c":5,"x":2426.5,"y":0.023},{"s":"V","c":5,"x":2440,"y":0.0267},{"s":"V","c":5,"x":2453.5,"y":0.024},{"s":"V","c":5,"x":2467,"y":0.0185},{"s":"V","c":5,"x":2480.5,"y":0.0129},{"s":"V","c":5,"x":2494,"y":0.0086},{"s":"V","c":5,"x":2521,"y":0.0034},{"s":"V","c":5,"x":2548,"y":0.0013},{"s":"V","c":5,"x":2575,"y":0.0005},
{"s":"V","c":6,"x":2458,"y":0.0003},{"s":"V","c":6,"x":2471.5,"y":0.0037},{"s":"V","c":6,"x":2485,"y":0.013},{"s":"V","c":6,"x":2498.5,"y":0.023},{"s":"V","c":6,"x":2512,"y":0.0267},{"s":"V","c":6,"x":2525.5,"y":0.024},{"s":"V","c":6,"x":2539,"y":0.0185},{"s":"V","c":6,"x":2552.5,"y":0.0129},{"s":"V","c":6,"x":2566,"y":0.0086},{"s":"V","c":6,"x":2593,"y":0.0034},{"s":"V","c":6,"x":2620,"y":0.0013},{"s":"V","c":6,"x":2647,"y":0.0005},
{"s":"V","c":7,"x":2520,"y":0.0003},{"s":"V","c":7,"x":2533.5,"y":0.0037},{"s":"V","c":7,"x":2547,"y":0.013},{"s":"V","c":7,"x":2560.5,"y":0.023},{"s":"V","c":7,"x":2574,"y":0.0267},{"s":"V","c":7,"x":2587.5,"y":0.024},{"s":"V","c":7,"x":2601,"y":0.0185},{"s":"V","c":7,"x":2614.5,"y":0.0129},{"s":"V","c":7,"x":2628,"y":0.0086},{"s":"V","c":7,"x":2655,"y":0.0034},{"s":"V","c":7,"x":2682,"y":0.0013},{"s":"V","c":7,"x":2709,"y":0.0005},
{"s":"V","c":8,"x":2577,"y":0.0003},{"s":"V","c":8,"x":2590.5,"y":0.0037},{"s":"V","c":8,"x":2604,"y":0.013},{"s":"V","c":8,"x":2617.5,"y":0.023},{"s":"V","c":8,"x":2631,"y":0.0267},{"s":"V","c":8,"x":2644.5,"y":0.024},{"s":"V","c":8,"x":2658,"y":0.0185},{"s":"V","c":8,"x":2671.5,"y":0.0129},{"s":"V","c":8,"x":2685,"y":0.0086},{"s":"V","c":8,"x":2712,"y":0.0034},{"s":"V","c":8,"x":2739,"y":0.0013},{"s":"V","c":8,"x":2766,"y":0.0005},
{"s":"V","c":9,"x":2634,"y":0.0003},{"s":"V","c":9,"x":2647.5,"y":0.0037},{"s":"V","c":9,"x":2661,"y":0.013},{"s":"V","c":9,"x":2674.5,"y":0.023},{"s":"V","c":9,"x":2688,"y":0.0267},{"s":"V","c":9,"x":2701.5,"y":0.024},{"s":"V","c":9,"x":2715,"y":0.0185},{"s":"V","c":9,"x":2728.5,"y":0.0129},{"s":"V","c":9,"x":2742,"y":0.0086},{"s":"V","c":9,"x":2769,"y":0.0034},{"s":"V","c":9,"x":2796,"y":0.0013},{"s":"V","c":9,"x":2823,"y":0.0005},
{"s":"V","c":10,"x":2691,"y":0.0003},{"s":"V","c":10,"x":2704.5,"y":0.0037},{"s":"V","c":10,"x":2718,"y":0.013},{"s":"V","c":10,"x":2731.5,"y":0.023},{"s":"V","c":10,"x":2745,"y":0.0267},{"s":"V","c":10,"x":2758.5,"y":0.024},{"s":"V","c":10,"x":2772,"y":0.0185},{"s":"V","c":10,"x":2785.5,"y":0.0129},{"s":"V","c":10,"x":2799,"y":0.0086},{"s":"V","c":10,"x":2826,"y":0.0034},{"s":"V","c":10,"x":2853,"y":0.0013},{"s":"V","c":10,"x":2880,"y":0.0005},
{"s":"V","c":11,"x":2743,"y":0.0003},{"s":"V","c":11,"x":2756.5,"y":0.0037},{"s":"V","c":11,"x":2770,"y":0.013},{"s":"V","c":11,"x":2783.5,"y":0.023},{"s":"V","c":11,"x":2797,"y":0.0267},{"s":"V","c":11,"x":2810.5,"y":0.024},{"s":"V","c":11,"x":2824,"y":0.0185},{"s":"V","c":11,"x":2837.5,"y":0.0129},{"s":"V","c":11,"x":2851,"y":0.0086},{"s":"V","c":11,"x":2878,"y":0.0034},{"s":"V","c":11,"x":2905,"y":0.0013},{"s":"V","c":11,"x":2932,"y":0.0005},
{"s":"V","c":12,"x":2794,"y":0.0003},{"s":"V","c":12,"x":2807.5,"y":0.0037},{"s":"V","c":12,"x":2821,"y":0.013},{"s":"V","c":12,"x":2834.5,"y":0.023},{"s":"V","c":12,"x":2848,"y":0.0267},{"s":"V","c":12,"x":2861.5,"y":0.024},{"s":"V","c":12,"x":2875,"y":0.0185},{"s":"V","c":12,"x":2888.5,"y":0.0129},{"s":"V","c":12,"x":2902,"y":0.0086},{"s":"V","c":12,"x":2929,"y":0.0034},{"s":"V","c":12,"x":2956,"y":0.0013},{"s":"V","c":12,"x":2983,"y":0.0005},
{"s":"V","c":13,"x":2841,"y":0.0003},{"s":"V","c":13,"x":2854.5,"y":0.0037},{"s":"V","c":13,"x":2868,"y":0.013},{"s":"V","c":13,"x":2881.5,"y":0.023},{"s":"V","c":13,"x":2895,"y":0.0267},{"s":"V","c":13,"x":2908.5,"y":0.024},{"s":"V","c":13,"x":2922,"y":0.0185},{"s":"V","c":13,"x":2935.5,"y":0.0129},{"s":"V","c":13,"x":2949,"y":0.0086},{"s":"V","c":13,"x":2976,"y":0.0034},{"s":"V","c":13,"x":3003,"y":0.0013},{"s":"V","c":13,"x":3030,"y":0.0005},
{"s":"V","c":14,"x":2883,"y":0.0003},{"s":"V","c":14,"x":2896.5,"y":0.0037},{"s":"V","c":14,"x":2910,"y":0.013},{"s":"V","c":14,"x":2923.5,"y":0.023},{"s":"V","c":14,"x":2937,"y":0.0267},{"s":"V","c":14,"x":2950.5,"y":0.024},{"s":"V","c":14,"x":2964,"y":0.0185},{"s":"V","c":14,"x":2977.5,"y":0.0129},{"s":"V","c":14,"x":2991,"y":0.0086},{"s":"V","c":14,"x":3018,"y":0.0034},{"s":"V","c":14,"x":3045,"y":0.0013},{"s":"V","c":14,"x":3072,"y":0.0005},
{"s":"V","c":15,"x":2929,"y":0.0003},{"s":"V","c":15,"x":2942.5,"y":0.0037},{"s":"V","c":15,"x":2956,"y":0.013},{"s":"V","c":15,"x":2969.5,"y":0.023},{"s":"V","c":15,"x":2983,"y":0.0267},{"s":"V","c":15,"x":2996.5,"y":0.024},{"s":"V","c":15,"x":3010,"y":0.0185},{"s":"V","c":15,"x":3023.5,"y":0.0129},{"s":"V","c":15,"x":3037,"y":0.0086},{"s":"V","c":15,"x":3064,"y":0.0034},{"s":"V","c":15,"x":3091,"y":0.0013},{"s":"V","c":15,"x":3118,"y":0.0005},
{"s":"N","c":1,"x":1887,"y":0.0003},{"s":"N","c":1,"x":1928,"y":0.0031},{"s":"N","c":1,"x":1969,"y":0.0138},{"s":"N","c":1,"x":2010,"y":0.0228},{"s":"N","c":1,"x":2051,"y":0.0138},{"s":"N","c":1,"x":2092,"y":0.0031},{"s":"N","c":1,"x":2133,"y":0.0003},
{"s":"N","c":2,"x":2061,"y":0.0003},{"s":"N","c":2,"x":2100,"y":0.0031},{"s":"N","c":2,"x":2139,"y":0.0138},{"s":"N","c":2,"x":2178,"y":0.0228},{"s":"N","c":2,"x":2217,"y":0.0138},{"s":"N","c":2,"x":2256,"y":0.0031},{"s":"N","c":2,"x":2295,"y":0.0003},
{"s":"N","c":3,"x":2176,"y":0.0003},{"s":"N","c":3,"x":2213,"y":0.0031},{"s":"N","c":3,"x":2250,"y":0.0138},{"s":"N","c":3,"x":2287,"y":0.0228},{"s":"N","c":3,"x":2324,"y":0.0138},{"s":"N","c":3,"x":2361,"y":0.0031},{"s":"N","c":3,"x":2398,"y":0.0003},
{"s":"N","c":4,"x":2267,"y":0.0003},{"s":"N","c":4,"x":2303,"y":0.0031},{"s":"N","c":4,"x":2339,"y":0.0138},{"s":"N","c":4,"x":2375,"y":0.0228},{"s":"N","c":4,"x":2411,"y":0.0138},{"s":"N","c":4,"x":2447,"y":0.0031},{"s":"N","c":4,"x":2483,"y":0.0003},
{"s":"N","c":5,"x":2348,"y":0.0003},{"s":"N","c":5,"x":2383,"y":0.0031},{"s":"N","c":5,"x":2418,"y":0.0138},{"s":"N","c":5,"x":2453,"y":0.0228},{"s":"N","c":5,"x":2488,"y":0.0138},{"s":"N","c":5,"x":2523,"y":0.0031},{"s":"N","c":5,"x":2558,"y":0.0003},
{"s":"N","c":6,"x":2423,"y":0.0003},{"s":"N","c":6,"x":2457,"y":0.0031},{"s":"N","c":6,"x":2491,"y":0.0138},{"s":"N","c":6,"x":2525,"y":0.0228},{"s":"N","c":6,"x":2559,"y":0.0138},{"s":"N","c":6,"x":2593,"y":0.0031},{"s":"N","c":6,"x":2627,"y":0.0003},
{"s":"N","c":7,"x":2485,"y":0.0003},{"s":"N","c":7,"x":2519,"y":0.0031},{"s":"N","c":7,"x":2553,"y":0.0138},{"s":"N","c":7,"x":2587,"y":0.0228},{"s":"N","c":7,"x":2621,"y":0.0138},{"s":"N","c":7,"x":2655,"y":0.0031},{"s":"N","c":7,"x":2689,"y":0.0003},
{"s":"N","c":8,"x":2542,"y":0.0003},{"s":"N","c":8,"x":2576,"y":0.0031},{"s":"N","c":8,"x":2610,"y":0.0138},{"s":"N","c":8,"x":2644,"y":0.0228},{"s":"N","c":8,"x":2678,"y":0.0138},{"s":"N","c":8,"x":2712,"y":0.0031},{"s":"N","c":8,"x":2746,"y":0.0003},
{"s":"N","c":9,"x":2599,"y":0.0003},{"s":"N","c":9,"x":2633,"y":0.0031},{"s":"N","c":9,"x":2667,"y":0.0138},{"s":"N","c":9,"x":2701,"y":0.0228},{"s":"N","c":9,"x":2735,"y":0.0138},{"s":"N","c":9,"x":2769,"y":0.0031},{"s":"N","c":9,"x":2803,"y":0.0003},
{"s":"N","c":10,"x":2656,"y":0.0003},{"s":"N","c":10,"x":2690,"y":0.0031},{"s":"N","c":10,"x":2724,"y":0.0138},{"s":"N","c":10,"x":2758,"y":0.0228},{"s":"N","c":10,"x":2792,"y":0.0138},{"s":"N","c":10,"x":2826,"y":0.0031},{"s":"N","c":10,"x":2860,"y":0.0003},
{"s":"N","c":11,"x":2711,"y":0.0003},{"s":"N","c":11,"x":2745,"y":0.0031},{"s":"N","c":11,"x":2779,"y":0.0138},{"s":"N","c":11,"x":2813,"y":0.0228},{"s":"N","c":11,"x":2847,"y":0.0138},{"s":"N","c":11,"x":2881,"y":0.0031},{"s":"N","c":11,"x":2915,"y":0.0003},
{"s":"N","c":12,"x":2760,"y":0.0003},{"s":"N","c":12,"x":2794,"y":0.0031},{"s":"N","c":12,"x":2828,"y":0.0138},{"s":"N","c":12,"x":2862,"y":0.0228},{"s":"N","c":12,"x":2896,"y":0.0138},{"s":"N","c":12,"x":2930,"y":0.0031},{"s":"N","c":12,"x":2964,"y":0.0003},
{"s":"N","c":13,"x":2807,"y":0.0003},{"s":"N","c":13,"x":2841,"y":0.0031},{"s":"N","c":13,"x":2875,"y":0.0138},{"s":"N","c":13,"x":2909,"y":0.0228},{"s":"N","c":13,"x":2943,"y":0.0138},{"s":"N","c":13,"x":2977,"y":0.0031},{"s":"N","c":13,"x":3011,"y":0.0003},
{"s":"N","c":14,"x":2851,"y":0.0003},{"s":"N","c":14,"x":2885,"y":0.0031},{"s":"N","c":14,"x":2919,"y":0.0138},{"s":"N","c":14,"x":2953,"y":0.0228},{"s":"N","c":14,"x":2987,"y":0.0138},{"s":"N","c":14,"x":3021,"y":0.0031},{"s":"N","c":14,"x":3055,"y":0.0003},
{"s":"N","c":15,"x":2895,"y":0.0003},{"s":"N","c":15,"x":2929,"y":0.0031},{"s":"N","c":15,"x":2963,"y":0.0138},{"s":"N","c":15,"x":2997,"y":0.0228},{"s":"N","c":15,"x":3031,"y":0.0138},{"s":"N","c":15,"x":3065,"y":0.0031},{"s":"N","c":15,"x":3099,"y":0.0003}
]},
"resolve":{"scale":{"color":"independent","strokeDash":"independent"},"legend":{"color":"independent","strokeDash":"independent"}},
"vconcat":[
{"width":450,"height":141,"data":{"name":"top"},
"layer":[
{"transform":[{"filter":"datum.s=='V'"}],"mark":{"type":"line","strokeWidth":1,"interpolate":"monotone","clip":true},
"encoding":{"x":{"field":"x","type":"quantitative","scale":{"domain":[0,840],"nice":false,"zero":false},"axis":{"values":[0,100,200,300,400,500,600,700,800],"format":"d","title":"Optimal score","labelPadding":7,"titlePadding":6}},
"y":{"field":"y","type":"quantitative","scale":{"domain":[0,0.1205],"nice":false},"axis":{"values":[0,0.02,0.04,0.06,0.08,0.1,0.12],"format":"~g","title":null,"labelPadding":6,"labelOverlap":false,"labelBound":false}},
"detail":{"field":"c"},
"color":{"field":"s","type":"nominal","scale":{"domain":["E","N","V"],"range":["#000000","#000000","#8c8c8c"]},"legend":{"labelExpr":"datum.value=='E'?'Empirical':datum.value=='N'?'Normal approximation':'EV approximation'"}},
"strokeDash":{"field":"s","type":"nominal","scale":{"domain":["E","N","V"],"range":[[1,0],[3,2],[1,1.5]]},"legend":{"labelExpr":"datum.value=='E'?'Empirical':datum.value=='N'?'Normal approximation':'EV approximation'"}}}},
{"transform":[{"filter":"datum.s=='N'"}],"mark":{"type":"line","strokeWidth":1,"interpolate":"monotone","clip":true},
"encoding":{"x":{"field":"x","type":"quantitative","axis":{"orient":"top","values":[0,100,200,300,400,500,600,700,800],"labels":false,"title":null}},
"y":{"field":"y","type":"quantitative","axis":{"orient":"right","values":[0,0.02,0.04,0.06,0.08,0.1],"labels":false,"title":null}},
"detail":{"field":"c"},"color":{"field":"s","type":"nominal"},"strokeDash":{"field":"s","type":"nominal"}}},
{"transform":[{"filter":"datum.s=='E'"}],"mark":{"type":"line","strokeWidth":1.7,"interpolate":"monotone","clip":true},
"encoding":{"x":{"field":"x","type":"quantitative","axis":null},"y":{"field":"y","type":"quantitative","axis":null},
"detail":{"field":"c"},"color":{"field":"s","type":"nominal"},"strokeDash":{"field":"s","type":"nominal"}}}
],
"resolve":{"axis":{"x":"independent","y":"independent"}}},
{"width":451,"height":142,"data":{"name":"bot"},
"title":{"text":"a","font":"Liberation Serif","fontSize":14,"fontWeight":"normal","color":"#222","offset":8,"dx":-10},
"layer":[
{"transform":[{"filter":"datum.s=='V'"}],"mark":{"type":"line","strokeWidth":1,"interpolate":"monotone","clip":true},
"encoding":{"x":{"field":"x","type":"quantitative","scale":{"domain":[1800,3200],"nice":false,"zero":false},"axis":{"values":[1800,2000,2200,2400,2600,2800,3000,3200],"format":"d","title":"Optimal score","labelPadding":9,"titlePadding":8}},
"y":{"field":"y","type":"quantitative","scale":{"domain":[0,0.035],"nice":false},"axis":{"values":[0,0.01,0.02,0.03],"format":"~g","title":null,"labelPadding":6}},
"detail":{"field":"c"},
"color":{"field":"s","type":"nominal","scale":{"domain":["E","N","V"],"range":["#000000","#000000","#8c8c8c"]},"legend":{"labelExpr":"datum.value=='E'?'Empirical':datum.value=='N'?'Normal approximation':'EV approximation'"}},
"strokeDash":{"field":"s","type":"nominal","scale":{"domain":["E","N","V"],"range":[[1,0],[3,2],[1,1.5]]},"legend":{"labelExpr":"datum.value=='E'?'Empirical':datum.value=='N'?'Normal approximation':'EV approximation'"}}}},
{"transform":[{"filter":"datum.s=='N'"}],"mark":{"type":"line","strokeWidth":1,"interpolate":"monotone","clip":true},
"encoding":{"x":{"field":"x","type":"quantitative","axis":{"orient":"top","values":[1800,2000,2200,2400,2600,2800,3000,3200],"labels":false,"title":null}},
"y":{"field":"y","type":"quantitative","axis":{"orient":"right","values":[0,0.01,0.02,0.03],"labels":false,"title":null}},
"detail":{"field":"c"},"color":{"field":"s","type":"nominal"},"strokeDash":{"field":"s","type":"nominal"}}},
{"transform":[{"filter":"datum.s=='E'"}],"mark":{"type":"line","strokeWidth":1.7,"interpolate":"monotone","clip":true},
"encoding":{"x":{"field":"x","type":"quantitative","axis":null},"y":{"field":"y","type":"quantitative","axis":null},
"detail":{"field":"c"},"color":{"field":"s","type":"nominal"},"strokeDash":{"field":"s","type":"nominal"}}}
],
"resolve":{"axis":{"x":"independent","y":"independent"}}}
]
}
